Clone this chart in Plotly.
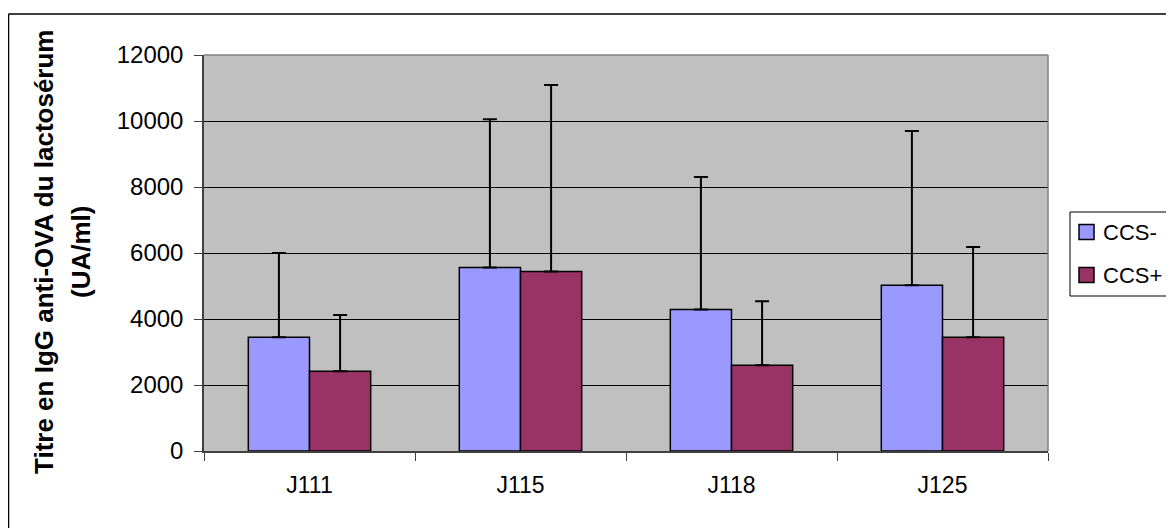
import plotly.graph_objects as go

categories = ["J111", "J115", "J118", "J125"]
series_names = ["CCS-", "CCS+"]
series_colors = ["#9999FF", "#993366"]
ccs_minus = [3450, 5560, 4290, 5020]
ccs_minus_err = [2550, 4490, 4010, 4680]
ccs_plus = [2420, 5440, 2600, 3450]
ccs_plus_err = [1700, 5650, 1940, 2730]
y_ticks = [0, 2000, 4000, 6000, 8000, 10000, 12000]
y_tick_labels = ["0", "2000", "4000", "6000", "8000", "10000", "12000"]

# page offset (body margin) compensation
OFF = 8
W, H = 1174 - OFF, 528 - OFF
# reference plot area in page pixels: x 204..1048, y 55..451
L, R, T, B = 204 - OFF, W - (1048 - OFF), 55 - OFF, H - (451 - OFF)
pw, ph = W - L - R, H - T - B


def px_x(x):
    return (x - OFF - L) / pw


def px_y(y):
    return (H - B - (y - OFF)) / ph


FONT = "Liberation Sans, Arial, sans-serif"

fig = go.Figure()
for name, color, vals, errs in [
    (series_names[0], series_colors[0], ccs_minus, ccs_minus_err),
    (series_names[1], series_colors[1], ccs_plus, ccs_plus_err),
]:
    fig.add_trace(go.Bar(
        x=categories, y=vals, name=name, showlegend=False,
        marker=dict(color=color, line=dict(color="black", width=1.5)),
        error_y=dict(type="data", array=errs, symmetric=False,
                     arrayminus=[0] * len(errs), color="black",
                     thickness=2, width=7),
    ))

fig.update_layout(
    width=W, height=H,
    margin=dict(l=L, r=R, t=T, b=B),
    paper_bgcolor="white", plot_bgcolor="#C0C0C0",
    barmode="group", bargap=0.42, bargroupgap=0,
    font=dict(family=FONT, size=22, color="black"),
    xaxis=dict(
        showgrid=False, ticks="outside", ticklen=8, tickcolor="#404040",
        tickson="boundaries", showline=True, linecolor="#404040", linewidth=1.5,
        tickfont=dict(size=23), zeroline=False, ticklabelstandoff=13,
    ),
    yaxis=dict(
        range=[0, 12000], tickvals=y_ticks, ticktext=y_tick_labels,
        ticks="outside", ticklen=8,
        tickcolor="#404040", showline=True, linecolor="#404040", linewidth=1.5,
        showgrid=True, gridcolor="black", gridwidth=1, zeroline=False,
        tickfont=dict(size=24), ticklabelstandoff=6,
    ),
)

# plot-area frame (top & right in grey)
fig.add_shape(type="line", xref="paper", yref="paper", x0=0, x1=1, y0=1, y1=1,
              line=dict(color="#808080", width=1.5), layer="above")
fig.add_shape(type="line", xref="paper", yref="paper", x0=1, x1=1, y0=0, y1=1,
              line=dict(color="#808080", width=1.5), layer="above")

# outer chart frame (left & top)
fig.add_shape(type="line", xref="paper", yref="paper", x0=px_x(8.5), x1=px_x(8.5),
              y0=px_y(14), y1=px_y(560), line=dict(color="black", width=1.5))
fig.add_shape(type="line", xref="paper", yref="paper", x0=px_x(8.5), x1=px_x(1200),
              y0=px_y(14), y1=px_y(14), line=dict(color="black", width=1.5))

# manual legend (box runs past the right edge as in the reference)
fig.add_shape(type="rect", xref="paper", yref="paper",
              x0=px_x(1070), x1=px_x(1200), y0=px_y(296), y1=px_y(212),
              fillcolor="white", line=dict(color="black", width=1))
for i, (name, color) in enumerate(zip(series_names, series_colors)):
    cy = 232 + i * 43
    fig.add_shape(type="rect", xref="paper", yref="paper",
                  x0=px_x(1079), x1=px_x(1094), y0=px_y(cy + 7.5), y1=px_y(cy - 7.5),
                  fillcolor=color, line=dict(color="black", width=1.5))
    fig.add_annotation(text=name, xref="paper", yref="paper",
                       x=px_x(1101), y=px_y(cy), xanchor="left", yanchor="middle",
                       showarrow=False, font=dict(size=22, family=FONT))

# y-axis title (two lines)
fig.add_annotation(text="<b>Titre en IgG anti-OVA du lactosérum</b>", textangle=-90,
                   xref="paper", yref="paper", x=px_x(44), y=px_y(252),
                   xanchor="center", yanchor="middle", showarrow=False,
                   font=dict(size=26, family=FONT))
fig.add_annotation(text="<b>(UA/ml)</b>", textangle=-90,
                   xref="paper", yref="paper", x=px_x(81), y=px_y(252),
                   xanchor="center", yanchor="middle", showarrow=False,
                   font=dict(size=26, family=FONT))

fig.write_html("out.html")
